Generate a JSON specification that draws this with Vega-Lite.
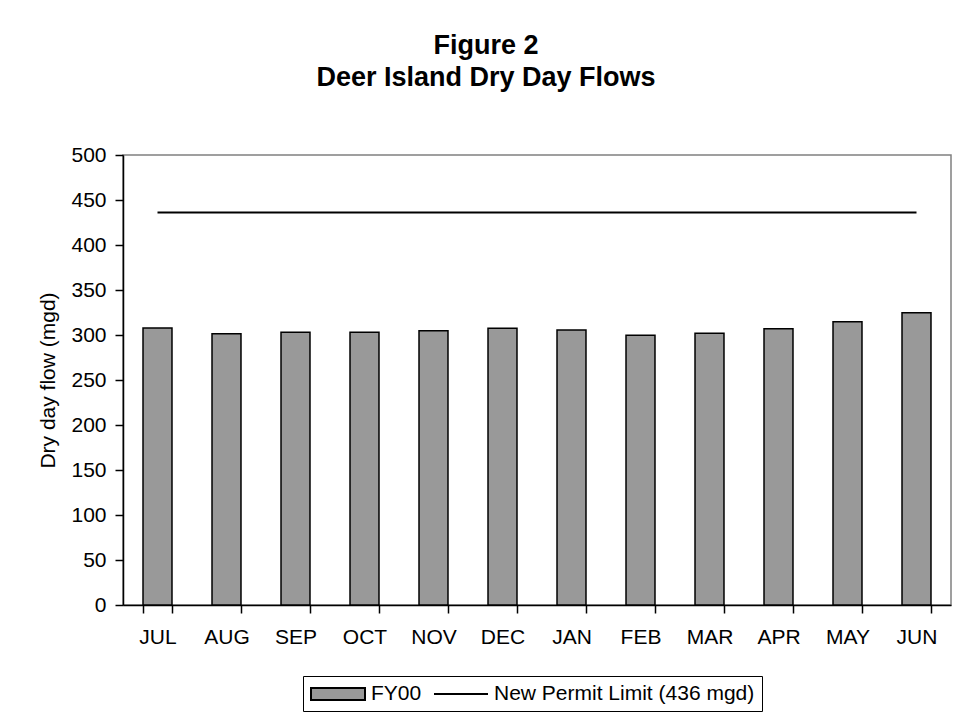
{
  "$schema": "https://vega.github.io/schema/vega-lite/v6.json",
  "autosize": "none",
  "width": 828,
  "height": 450,
  "padding": {"left": 123, "top": 155, "right": 10, "bottom": 110},
  "background": "white",
  "config": {
    "font": "Liberation Sans",
    "view": {"stroke": "#808080", "strokeWidth": 1.5}
  },
  "title": {
    "text": ["Figure 2", "Deer Island Dry Day Flows"],
    "fontSize": 27,
    "fontWeight": "bold",
    "color": "black",
    "anchor": "middle",
    "frame": "group",
    "dx": -51,
    "lineHeight": 32,
    "offset": 52
  },
  "data": {
    "values": [
      {"month": "JUL", "flow": 307.8, "limit": 436},
      {"month": "AUG", "flow": 301.4, "limit": 436},
      {"month": "SEP", "flow": 303.0, "limit": 436},
      {"month": "OCT", "flow": 303.0, "limit": 436},
      {"month": "NOV", "flow": 304.8, "limit": 436},
      {"month": "DEC", "flow": 307.4, "limit": 436},
      {"month": "JAN", "flow": 305.6, "limit": 436},
      {"month": "FEB", "flow": 299.7, "limit": 436},
      {"month": "MAR", "flow": 301.9, "limit": 436},
      {"month": "APR", "flow": 307.0, "limit": 436},
      {"month": "MAY", "flow": 314.8, "limit": 436},
      {"month": "JUN", "flow": 324.8, "limit": 436}
    ]
  },
  "encoding": {
    "x": {
      "field": "month",
      "type": "nominal",
      "sort": null,
      "scale": {"paddingInner": 0.58, "paddingOuter": 0.29},
      "axis": {
        "title": null,
        "labelAngle": 0,
        "labelFontSize": 21,
        "labelColor": "black",
        "labelPadding": 13,
        "tickBand": "extent",
        "tickSize": 8,
        "tickColor": "black",
        "tickWidth": 1.5,
        "domainColor": "black",
        "domainWidth": 1.5,
        "grid": false
      }
    }
  },
  "layer": [
    {
      "mark": {"type": "bar", "fill": "#999999", "strokeWidth": 1.5},
      "encoding": {
        "y": {
          "field": "flow",
          "type": "quantitative",
          "scale": {"domain": [0, 500], "nice": false},
          "axis": {
            "title": "Dry day flow (mgd)",
            "titleFontSize": 21,
            "titleFontWeight": "normal",
            "titleColor": "black",
            "titlePadding": 12,
            "values": [0, 50, 100, 150, 200, 250, 300, 350, 400, 450, 500],
            "labelFontSize": 21,
            "labelColor": "black",
            "labelPadding": 9,
            "tickSize": 8,
            "tickColor": "black",
            "tickWidth": 1.5,
            "domainColor": "black",
            "domainWidth": 1.5,
            "grid": false
          }
        },
        "stroke": {
          "datum": "FY00",
          "scale": {
            "domain": ["FY00", "New Permit Limit (436 mgd)"],
            "range": ["#000000", "#000000"]
          },
          "legend": {
            "title": null,
            "orient": "none",
            "legendX": 180,
            "legendY": 521,
            "direction": "horizontal",
            "padding": 7,
            "strokeColor": "black",
            "fillColor": "white",
            "labelFontSize": 21,
            "labelColor": "black",
            "labelLimit": 500,
            "symbolSize": 400,
            "symbolOffset": 17,
            "labelOffset": 22,
            "columnPadding": 8,
            "encode": {
              "symbols": {
                "update": {
                  "shape": {"signal": "datum.value == 'FY00' ? 'M-2.7,-0.6H2.7V0.6H-2.7Z' : 'M-2.7,0H2.7'"},
                  "fill": {"signal": "datum.value == 'FY00' ? '#999999' : 'transparent'"},
                  "strokeWidth": {"value": 2},
                  "opacity": {"value": 1},
                  "fillOpacity": {"value": 1},
                  "strokeOpacity": {"value": 1}
                }
              }
            }
          }
        }
      }
    },
    {
      "mark": {"type": "line", "strokeWidth": 2},
      "encoding": {
        "y": {"field": "limit", "type": "quantitative"},
        "stroke": {
          "datum": "New Permit Limit (436 mgd)",
          "legend": {
            "title": null,
            "orient": "none",
            "legendX": 180,
            "legendY": 521,
            "direction": "horizontal",
            "padding": 7,
            "strokeColor": "black",
            "fillColor": "white",
            "labelFontSize": 21,
            "labelColor": "black",
            "labelLimit": 500,
            "symbolSize": 400,
            "symbolOffset": 17,
            "labelOffset": 22,
            "columnPadding": 8,
            "encode": {
              "symbols": {
                "update": {
                  "shape": {"signal": "datum.value == 'FY00' ? 'M-2.7,-0.6H2.7V0.6H-2.7Z' : 'M-2.7,0H2.7'"},
                  "fill": {"signal": "datum.value == 'FY00' ? '#999999' : 'transparent'"},
                  "strokeWidth": {"value": 2},
                  "opacity": {"value": 1},
                  "fillOpacity": {"value": 1},
                  "strokeOpacity": {"value": 1}
                }
              }
            }
          }
        }
      }
    }
  ],
  "resolve": {"scale": {"y": "shared"}}
}
